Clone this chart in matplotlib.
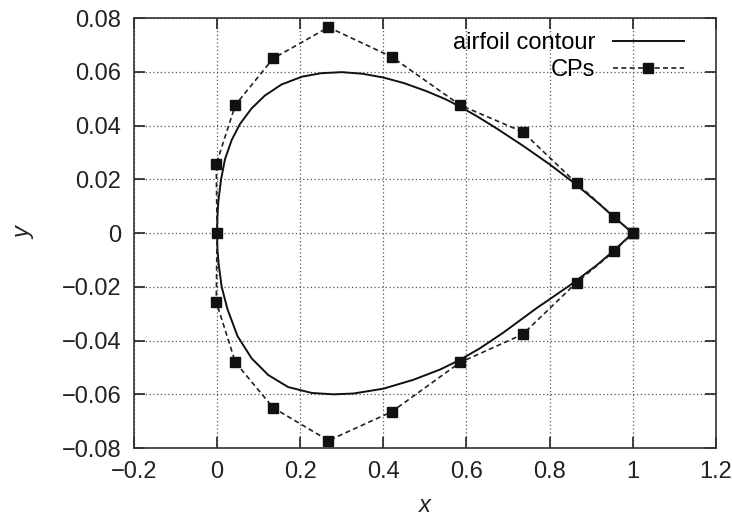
import matplotlib
matplotlib.use("Agg")
import matplotlib.pyplot as plt

# Airfoil contour: upper side (trailing -> leading edge)
upper_x = [1.0, 0.953, 0.913, 0.857, 0.80, 0.736, 0.672, 0.624, 0.585, 0.55, 0.504,
           0.45, 0.40, 0.35, 0.30, 0.25, 0.204, 0.155, 0.115, 0.083, 0.055, 0.035,
           0.019, 0.0096, 0.003, 0.0008, 0.0]
upper_y = [0.0, 0.0062, 0.0117, 0.0189, 0.0256, 0.0325, 0.0390, 0.0436, 0.0470, 0.0498, 0.0528,
           0.0558, 0.0579, 0.0593, 0.0599, 0.0595, 0.0582, 0.0553, 0.0512, 0.0464, 0.0406, 0.0346,
           0.0275, 0.0200, 0.0118, 0.0060, 0.0]

# lower side (leading -> trailing edge)
lower_x = [0.0, 0.0008, 0.004, 0.011, 0.025, 0.049, 0.083, 0.123, 0.171, 0.228, 0.28,
           0.328, 0.40, 0.472, 0.536, 0.584, 0.632, 0.688, 0.768, 0.849, 0.913, 0.953, 1.0]
lower_y = [0.0, -0.0060, -0.0118, -0.0200, -0.0283, -0.0383, -0.0466, -0.0528, -0.0573, -0.0595, -0.0600,
           -0.0597, -0.0579, -0.0546, -0.0508, -0.0472, -0.0429, -0.0371, -0.0280, -0.0194, -0.0120, -0.0067, 0.0]

# Control points of the contour
cp_x = [1.0, 0.955, 0.865, 0.735, 0.585, 0.42, 0.268, 0.135, 0.044, -0.002, 0.0,
        -0.002, 0.044, 0.135, 0.268, 0.42, 0.585, 0.735, 0.865, 0.955, 1.0]
cp_y = [0.0, 0.0061, 0.0185, 0.0377, 0.0476, 0.0656, 0.0766, 0.0650, 0.0477, 0.0257, 0.0,
        -0.0256, -0.0481, -0.0650, -0.0772, -0.0665, -0.0481, -0.0377, -0.0184, -0.0068, 0.0]

x_ticks = [-0.2, 0, 0.2, 0.4, 0.6, 0.8, 1, 1.2]
x_tick_labels = ["\u22120.2", "0", "0.2", "0.4", "0.6", "0.8", "1", "1.2"]
y_ticks = [-0.08, -0.06, -0.04, -0.02, 0, 0.02, 0.04, 0.06, 0.08]
y_tick_labels = ["\u22120.08", "\u22120.06", "\u22120.04", "\u22120.02", "0",
                 "0.02", "0.04", "0.06", "0.08"]

plt.rcParams["font.family"] = ["Liberation Sans", "DejaVu Sans"]
plt.rcParams["font.size"] = 17

fig = plt.figure(figsize=(7.32, 5.18), dpi=100)
ax = fig.add_axes([0.183, 0.135, 0.795, 0.830])

contour_x = upper_x + lower_x[1:]
contour_y = upper_y + lower_y[1:]
ax.plot(contour_x, contour_y, color="#111111", lw=1.4, solid_joinstyle="round",
        label="airfoil contour", zorder=3)
ax.plot(cp_x, cp_y, color="#222222", lw=1.2, linestyle=(0, (3, 2)),
        marker="s", markersize=7, markerfacecolor="#111111", markeredgecolor="#111111",
        label="CPs", zorder=4)

ax.set_xlim(-0.2, 1.2)
ax.set_ylim(-0.08, 0.08)
ax.set_xticks(x_ticks)
ax.set_xticklabels(x_tick_labels)
ax.set_yticks(y_ticks)
ax.set_yticklabels(y_tick_labels)

ax.tick_params(direction="in", length=8, width=1.2, top=True, right=True,
               pad=9, colors="#222222", labelcolor="#222222")
ax.grid(True, color="#555555", linestyle=(0, (1, 2)), linewidth=0.9)
for s in ax.spines.values():
    s.set_linewidth(1.2)
    s.set_color("#333333")

ax.set_xlabel("x", style="italic", color="#222222", labelpad=8)
ax.set_ylabel("y", style="italic", color="#222222")
ax.yaxis.set_label_coords(-0.170, 0.5)

ax.legend(loc="upper right", bbox_to_anchor=(0.969, 1.0), frameon=False,
          markerfirst=False, handlelength=3.0, handletextpad=0.75,
          labelspacing=0.22, borderaxespad=0.3, borderpad=0.3, numpoints=1)

fig.savefig("out.png", dpi=100)
